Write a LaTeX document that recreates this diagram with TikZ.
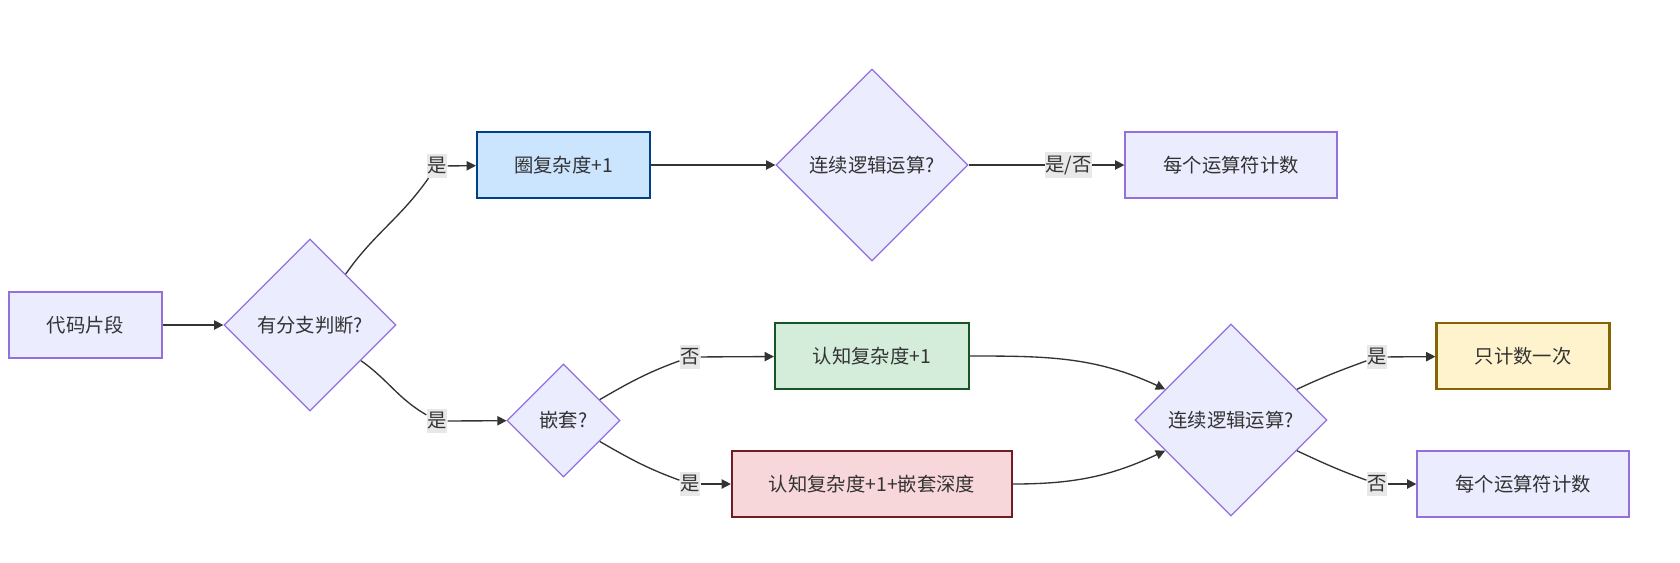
\documentclass[tikz,border=0pt]{standalone}
\usepackage{fontspec}
\setmainfont{Noto Sans CJK SC}
\usetikzlibrary{shapes.geometric,arrows.meta}
\definecolor{txt}{HTML}{333333}
\definecolor{boxfill}{HTML}{ECECFF}
\definecolor{boxline}{HTML}{9370DB}
\definecolor{lblfill}{HTML}{E8E8E8}
\definecolor{bluefill}{HTML}{CCE5FF}
\definecolor{blueline}{HTML}{004085}
\definecolor{greenfill}{HTML}{D4EDDA}
\definecolor{greenline}{HTML}{155724}
\definecolor{redfill}{HTML}{F8D7DA}
\definecolor{redline}{HTML}{721C24}
\definecolor{yellowfill}{HTML}{FFF3CD}
\definecolor{yellowline}{HTML}{856404}
\begin{document}
\begin{tikzpicture}[x=0.75pt,y=0.75pt,
	every node/.style={font=\fontsize{14.5}{17}\selectfont, text=txt},
	box/.style={draw=boxline, fill=boxfill, line width=0.9pt, minimum height=49.5pt},
	hot/.style={line width=1.6pt, minimum height=49.5pt},
	dec/.style={diamond, aspect=1, draw=boxline, fill=boxfill, line width=0.9pt, inner sep=0pt},
	lbl/.style={fill=lblfill, inner xsep=0.5pt, inner ysep=2.5pt},
	line/.style={draw=txt, line width=1pt},
	arr/.style={line, -{Triangle[length=7pt,width=7pt]}}]
\useasboundingbox (0,0) rectangle (1680,-562);
% nodes
\node[box, minimum width=114.75pt] (code) at (85.5,-325) {代码片段};
\node[dec, minimum size=129pt] (branch) at (310,-325) {有分支判断?};
\node[hot, draw=blueline, fill=bluefill, minimum width=129.75pt] (cyclo) at (563.5,-165) {圈复杂度+1};
\node[dec, minimum size=144pt] (logic1) at (872,-165) {连续逻辑运算?};
\node[box, minimum width=159pt] (each1) at (1231,-165) {每个运算符计数};
\node[dec, minimum size=84.75pt] (nest) at (563.5,-420.5) {嵌套?};
\node[hot, draw=greenline, fill=greenfill, minimum width=145.5pt] (cog) at (872,-356) {认知复杂度+1};
\node[hot, draw=redline, fill=redfill, minimum width=210pt] (cogn) at (872,-484) {认知复杂度+1+嵌套深度};
\node[dec, minimum size=144pt] (logic2) at (1231,-420) {连续逻辑运算?};
\node[hot, draw=yellowline, fill=yellowfill, minimum width=129.75pt] (once) at (1523,-356) {只计数一次};
\node[box, minimum width=159pt] (each2) at (1523,-484) {每个运算符计数};
% edge labels
\node[lbl] (lb1) at (437,-166) {是};
\node[lbl] (lb2) at (437,-421) {是};
\node[lbl] (lb3) at (690,-357) {否};
\node[lbl] (lb4) at (690,-484) {是};
\node[lbl] (lb5) at (1377,-357) {是};
\node[lbl] (lb6) at (1377,-484) {否};
% edges
\draw[arr] (code) -- (branch);
\draw[line] (branch) to[out=55,in=235] (lb1);
\draw[arr] (lb1) -- (cyclo);
\draw[line] (branch) to[out=-35,in=150] (lb2);
\draw[arr] (lb2) -- (nest);
\draw[arr] (cyclo) -- (logic1);
\draw[arr] (logic1) -- node[lbl, pos=0.64] {是/否} (each1);
\draw[line] (nest) to[out=30,in=200] (lb3);
\draw[arr] (lb3) -- (cog);
\draw[line] (nest) to[out=-30,in=160] (lb4);
\draw[arr] (lb4) -- (cogn);
\draw[arr] (cog) to[out=0,in=155] (logic2);
\draw[arr] (cogn) to[out=0,in=205] (logic2);
\draw[line] (logic2) to[out=25,in=200] (lb5);
\draw[arr] (lb5) -- (once);
\draw[line] (logic2) to[out=-25,in=160] (lb6);
\draw[arr] (lb6) -- (each2);
\end{tikzpicture}
\end{document}
